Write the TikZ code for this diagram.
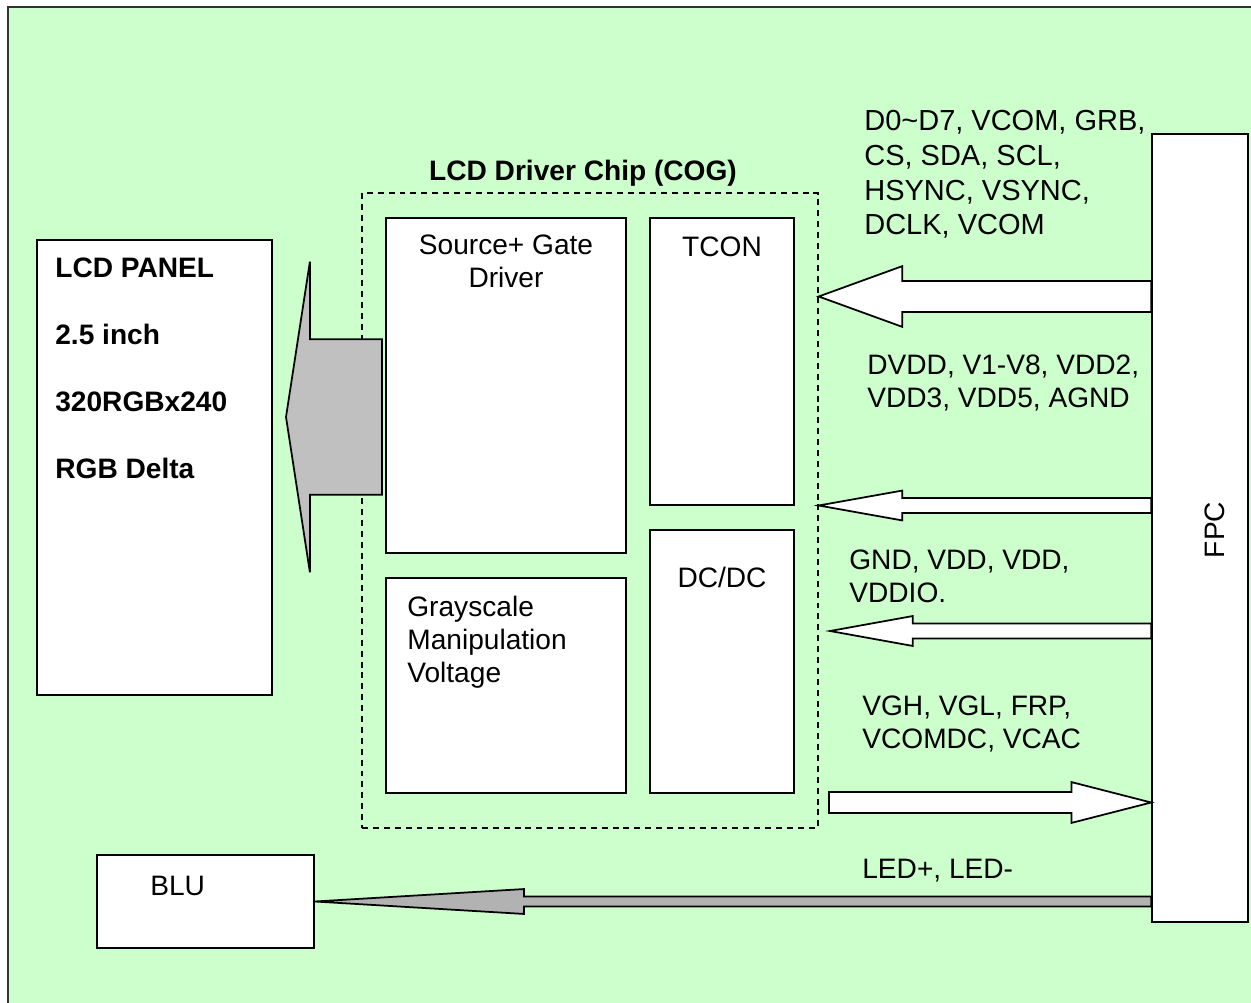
\documentclass[tikz,border=0pt]{standalone}
\usepackage{fontspec}
\setmainfont{Liberation Sans}
\usetikzlibrary{calc}
\definecolor{panelgreen}{HTML}{CCFFCC}
\definecolor{biggrey}{HTML}{C0C0C0}
\definecolor{ledgrey}{HTML}{B2B2B2}
\tikzset{
	box/.style={draw, line width=1pt, fill=white, inner sep=0pt},
	txt/.style={inner sep=0pt, align=left, font=\fontsize{16}{18.7}\selectfont},
	bold/.style={txt, font=\bfseries\fontsize{16}{18.7}\selectfont},
	whitearrow/.style={draw, line width=1pt, fill=white},
}
\newcommand{\blockarrow}[6]{%
	\draw[#1] let \p1=(#2), \p2=(#3), \n1={sign(\x1-\x2)} in
		(\x1,\y2+#4*0.5669pt) -- (\x2+\n1*#6*0.5669pt,\y2+#4*0.5669pt) -- (\x2+\n1*#6*0.5669pt,\y2+#5*0.5669pt)
		-- (\x2,\y2) -- (\x2+\n1*#6*0.5669pt,\y2-#5*0.5669pt) -- (\x2+\n1*#6*0.5669pt,\y2-#4*0.5669pt) -- (\x1,\y2-#4*0.5669pt) -- cycle;}

\begin{document}
\begin{tikzpicture}[x=0.02cm, y=-0.02cm]
			\useasboundingbox (0,0) rectangle (1251,1003);
			\draw[line width=1.4pt, draw=black!80, fill=panelgreen] (8,7) rectangle (1262,1014);
			\node[box, minimum width=4.7cm, minimum height=9.1cm] (panel) at (154.5,467.5) {};
			\node[bold, anchor=north west, font=\bfseries\fontsize{16}{38}\selectfont] (paneltext) at (55,258) {LCD PANEL\\2.5 inch\\320RGBx240\\RGB Delta};
			\node[draw, dashed, dash pattern=on 3.4pt off 2.8pt, line width=0.8pt, minimum width=9.12cm, minimum height=12.7cm] (chip) at (590,510.5) {};
			\node[bold, anchor=base] (chiptext) at (583,181) {LCD Driver Chip (COG)};
			\node[box, minimum width=4.8cm, minimum height=6.7cm] (src) at (506,385.5) {};
			\node[txt, align=center, anchor=north] (srctext) at (506,235) {Source+ Gate\\Driver};
			\node[box, minimum width=2.88cm, minimum height=5.74cm] (tcon) at (722,361.5) {};
			\node[txt, anchor=base] (tcontext) at (722,257) {TCON};
			\node[box, minimum width=4.8cm, minimum height=4.3cm] (grey) at (506,685.5) {};
			\node[txt, anchor=north west] (greytext) at (407,596) {Grayscale\\Manipulation\\Voltage};
			\node[box, minimum width=2.88cm, minimum height=5.26cm] (dcdc) at (722,661.5) {};
			\node[txt, anchor=base] (dcdctext) at (722,587) {DC/DC};
			\node[box, minimum width=1.92cm, minimum height=15.76cm] (fpc) at (1200,528) {};
			\node[txt, rotate=90] (fpctext) at (1215,530) {FPC};
			\node[box, minimum width=4.34cm, minimum height=1.86cm] (blu) at (205.5,901.5) {};
			\node[txt, anchor=base west] (blutext) at (150,895) {BLU};
			\node[txt, anchor=north west, font=\fontsize{16.5}{19.8}\selectfont] (sigtext) at (864,110) {D0\textasciitilde D7, VCOM, GRB,\\CS, SDA, SCL,\\HSYNC, VSYNC,\\DCLK, VCOM};
			\node[txt, anchor=north west] (pwrtext) at (867,355) {DVDD, V1-V8, VDD2,\\VDD3, VDD5, AGND};
			\node[txt, anchor=north west] (gndtext) at (849,550) {GND, VDD, VDD,\\VDDIO.};
			\node[txt, anchor=north west] (vghtext) at (862,696) {VGH, VGL, FRP,\\VCOMDC, VCAC};
			\node[txt, anchor=north west] (ledtext) at (862,859) {LED+, LED-};
			\coordinate (lvla) at (0,296.5);
			\coordinate (lvlb) at (0,505.5);
			\coordinate (lvlc) at (0,631);
			\coordinate (lvld) at (0,802.5);
			\coordinate (lvle) at (0,901.5);
			\coordinate (gndtip) at (830,631);
			\coordinate (vghtail) at (829,802.5);
			\coordinate (bigtail) at (382,417);
			\coordinate (bigtip) at (286,417);
			\blockarrow{whitearrow}{fpc.west |- lvla}{chip.east |- lvla}{15.5}{30.5}{84}
			\blockarrow{whitearrow}{fpc.west |- lvlb}{chip.east |- lvlb}{7.5}{15}{84}
			\blockarrow{whitearrow}{fpc.west |- lvlc}{gndtip}{7.5}{15}{83}
			\blockarrow{whitearrow}{vghtail}{fpc.west |- lvld}{10.5}{20.5}{80}
			\blockarrow{whitearrow, fill=biggrey}{bigtail}{bigtip}{78}{156}{24}
			\blockarrow{whitearrow, fill=ledgrey}{fpc.west |- lvle}{blu.east |- lvle}{5}{12.5}{210}
			\end{tikzpicture}
\end{document}
